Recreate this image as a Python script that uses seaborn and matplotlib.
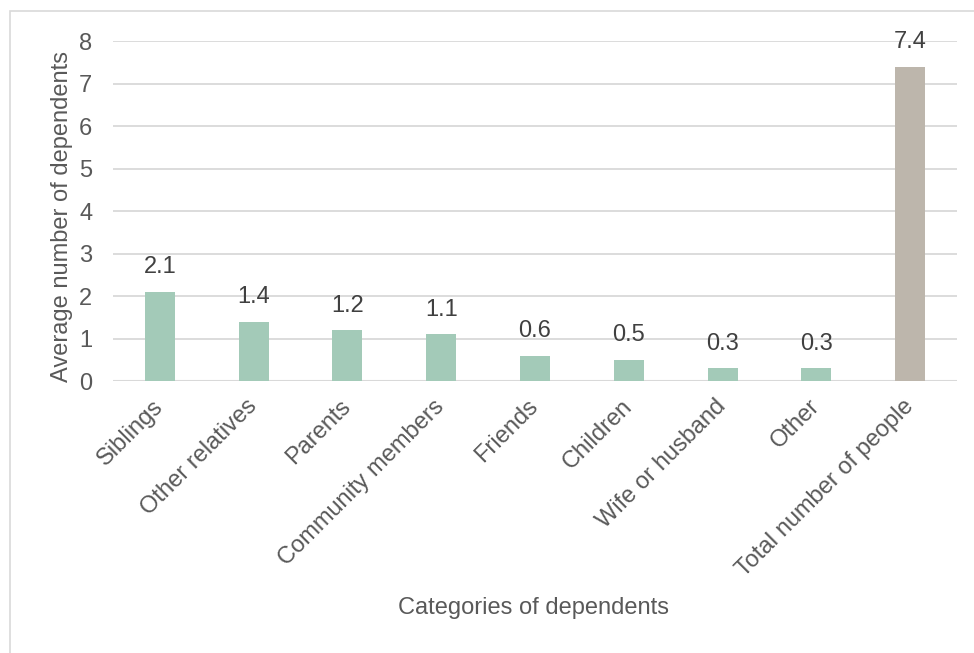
import matplotlib
matplotlib.use("Agg")
import matplotlib.pyplot as plt
import seaborn as sns
import pandas as pd
from matplotlib.patches import Rectangle

categories = ["Siblings", "Other relatives", "Parents", "Community members",
              "Friends", "Children", "Wife or husband", "Other",
              "Total number of people"]
values = [2.1, 1.4, 1.2, 1.1, 0.6, 0.5, 0.3, 0.3, 7.4]
y_ticks = [0, 1, 2, 3, 4, 5, 6, 7, 8]

green = "#a3cab8"
grey = "#bdb6ac"
text_col = "#595959"
grid_col = "#d9d9d9"
fs = 17

sns.set_theme(style="white")
plt.rcParams["font.family"] = ["Liberation Sans", "DejaVu Sans"]

df = pd.DataFrame({"category": categories, "value": values})
palette = [green] * (len(categories) - 1) + [grey]

fig = plt.figure(figsize=(9.74, 6.53), dpi=100)
ax = fig.add_axes([0.116, 0.4165, 0.8665, 0.5205])

sns.barplot(data=df, x="category", y="value", hue="category", palette=palette,
            width=0.32, legend=False, ax=ax, saturation=1, edgecolor="none")

ax.set_ylim(0, 8)
ax.set_xlim(-0.5, len(categories) - 0.5)
ax.set_yticks(y_ticks)
ax.yaxis.grid(True, color=grid_col, linewidth=1.3)
ax.set_axisbelow(True)
for s in ax.spines.values():
    s.set_visible(False)
ax.axhline(0, color=grid_col, linewidth=1.5, zorder=0.5)

ax.tick_params(axis="y", length=0, labelsize=fs, labelcolor=text_col, pad=15)
ax.tick_params(axis="x", length=0, labelsize=fs, labelcolor=text_col, pad=16)
plt.setp(ax.get_xticklabels(), rotation=45, ha="right", va="center",
         rotation_mode="anchor")

for i, v in enumerate(values):
    ax.annotate(f"{v:.1f}", (i, v), xytext=(0, 17.5), textcoords="offset points",
                ha="center", va="center", fontsize=fs, color="#404040")

ax.set_ylabel("Average number of dependents", fontsize=fs, color=text_col)
ax.yaxis.set_label_coords(-0.047, 0.485)
ax.set_xlabel("Categories of dependents", fontsize=fs, color=text_col)
ax.xaxis.set_label_coords(0.498, -0.635)

# outer frame
fig.patches.append(Rectangle((10 / 974, -0.1), 2, 1.1 - 11 / 653,
                             transform=fig.transFigure, fill=False,
                             edgecolor="#d9d9d9", linewidth=1.2))

fig.savefig("out.png", dpi=100)
